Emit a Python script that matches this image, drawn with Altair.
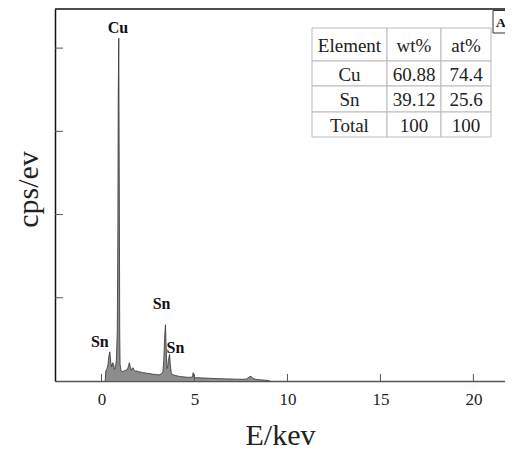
import altair as alt
import pandas as pd

# ---- spectrum ----
energy = [0.20, 0.23, 0.25, 0.30, 0.35, 0.40, 0.45, 0.50, 0.55, 0.60, 0.65, 0.70, 0.75,
          0.80, 0.85, 0.88, 0.90, 0.93, 0.96, 0.98, 1.00, 1.05, 1.10, 1.20, 1.30, 1.40,
          1.45, 1.50, 1.55, 1.60, 1.65, 1.70, 1.75, 1.80, 1.90, 2.00, 2.10, 2.20, 2.30,
          2.40, 2.50, 2.60, 2.70, 2.80, 2.90, 3.00, 3.10, 3.20, 3.30, 3.35, 3.40, 3.44,
          3.48, 3.52, 3.56, 3.60, 3.66, 3.70, 3.75, 3.80, 3.90, 4.00, 4.10, 4.20, 4.40,
          4.60, 4.80, 4.90, 4.93, 4.96, 5.00, 5.20, 5.40, 5.60, 5.80, 6.00, 6.20, 6.40,
          6.60, 6.80, 7.00, 7.20, 7.40, 7.60, 7.80, 7.95, 8.05, 8.15, 8.30, 8.50, 8.70,
          8.90, 9.00, 9.05]
counts = [0.00, 0.12, 0.13, 0.15, 0.20, 0.30, 0.35, 0.22, 0.17, 0.22, 0.20, 0.14, 0.16,
          0.25, 0.60, 1.80, 3.40, 4.12, 2.20, 0.60, 0.20, 0.13, 0.11, 0.12, 0.13, 0.14,
          0.18, 0.22, 0.17, 0.13, 0.15, 0.16, 0.13, 0.12, 0.12, 0.11, 0.11, 0.10, 0.10,
          0.095, 0.09, 0.09, 0.085, 0.08, 0.08, 0.075, 0.075, 0.08, 0.11, 0.25, 0.55, 0.675,
          0.40, 0.15, 0.17, 0.25, 0.32, 0.20, 0.10, 0.08, 0.07, 0.065, 0.06, 0.055, 0.05,
          0.045, 0.045, 0.05, 0.10, 0.05, 0.04, 0.04, 0.037, 0.035, 0.033, 0.03, 0.03, 0.028,
          0.026, 0.025, 0.024, 0.022, 0.022, 0.02, 0.025, 0.05, 0.055, 0.03, 0.02, 0.015, 0.012,
          0.008, 0.005, 0.0]

# peak labels
peak_labels = ["Cu", "Sn", "Sn", "Sn"]
peak_x = [0.88, -0.09, 3.23, 3.98]
peak_y = [4.24, 0.47, 0.92, 0.40]

x_ticks = [0, 5, 10, 15, 20]
y_ticks = [1, 2, 3, 4]

# composition table
table_header = ["Element", "wt%", "at%"]
table_elements = ["Cu", "Sn", "Total"]
table_wt = ["60.88", "39.12", "100"]
table_at = ["74.4", "25.6", "100"]

W, H = 450, 372
XDOM = [-2.5, 21.7]
YDOM = [0, 4.47]
SERIF = "Liberation Serif"

xs = alt.Scale(domain=XDOM, nice=False, zero=False)
ys = alt.Scale(domain=YDOM, nice=False, zero=False)

spec_df = pd.DataFrame({"E": energy, "c": counts})

area = alt.Chart(spec_df).mark_area(
    color="#8c8c8c", opacity=1,
    line={"color": "#333333", "strokeWidth": 0.8}
).encode(
    x=alt.X("E:Q", scale=xs,
            axis=alt.Axis(values=x_ticks, ticks=False, grid=False, domainColor="#555555",
                          domainWidth=1.5, labelFont=SERIF, labelFontSize=17,
                          labelColor="#222222", labelPadding=10, title="E/kev",
                          titleFont=SERIF, titleFontSize=30, titleFontWeight="normal",
                          titleColor="#222222", titlePadding=13)),
    y=alt.Y("c:Q", scale=ys,
            axis=alt.Axis(values=y_ticks, ticks=False, labels=False, grid=False,
                          domainColor="#111111", domainWidth=1.5, title="cps/ev",
                          titleFont=SERIF, titleFontSize=30, titleFontWeight="normal",
                          titleColor="#222222", titlePadding=12, titleY=180))
)

ytick = alt.Chart(pd.DataFrame({"v": y_ticks})).mark_rule(color="#555555", strokeWidth=1).encode(
    y=alt.Y("v:Q", scale=ys), x=alt.value(0), x2=alt.value(8)
)
xtick = alt.Chart(pd.DataFrame({"v": x_ticks})).mark_rule(color="#555555", strokeWidth=1).encode(
    x=alt.X("v:Q", scale=xs), y=alt.value(H), y2=alt.value(H - 7)
)
top_border = alt.Chart(pd.DataFrame({"a": [0]})).mark_rule(color="#111111", strokeWidth=1.5).encode(
    x=alt.value(0), x2=alt.value(W), y=alt.value(0)
)

labels = alt.Chart(pd.DataFrame({"t": peak_labels, "x": peak_x, "y": peak_y})).mark_text(
    font=SERIF, fontSize=16, fontWeight="bold", color="#111111", baseline="middle"
).encode(x=alt.X("x:Q", scale=xs), y=alt.Y("y:Q", scale=ys), text="t:N")

# table layout (pixel layout inside plot area)
col_edges = [257, 332, 386, 436]
row_edges = [19, 52, 77, 103, 128]
rows = [table_header] + [[e, w, a] for e, w, a in zip(table_elements, table_wt, table_at)]
cells = []
for r, row in enumerate(rows):
    for c, txt in enumerate(row):
        cells.append({"t": txt, "x0": col_edges[c], "x1": col_edges[c + 1],
                      "y0": row_edges[r], "y1": row_edges[r + 1],
                      "xm": (col_edges[c] + col_edges[c + 1]) / 2,
                      "ym": (row_edges[r] + row_edges[r + 1]) / 2})
cell_df = pd.DataFrame(cells)
cell_rect = alt.Chart(cell_df).mark_rect(fill="white", stroke="#bbbbbb", strokeWidth=1).encode(
    x=alt.X("x0:Q", scale=None), x2="x1:Q", y=alt.Y("y0:Q", scale=None), y2="y1:Q"
)
cell_text = alt.Chart(cell_df).mark_text(font=SERIF, fontSize=19, color="#222222",
                                         baseline="middle", dy=1).encode(
    x=alt.X("xm:Q", scale=None), y=alt.Y("ym:Q", scale=None), text="t:N"
)

a_box = alt.Chart(pd.DataFrame({"t": ["A"]})).mark_rect(fill="white", stroke="#333333",
                                                        strokeWidth=1).encode(
    x=alt.value(438), x2=alt.value(462), y=alt.value(1.5), y2=alt.value(24)
)
a_text = alt.Chart(pd.DataFrame({"t": ["A"]})).mark_text(
    font=SERIF, fontSize=13.5, fontWeight="bold", color="#111111", align="left", baseline="middle"
).encode(x=alt.value(441), y=alt.value(13.5), text="t:N")

chart = alt.layer(area, ytick, xtick, top_border, labels, cell_rect, cell_text, a_box, a_text).properties(
    width=W, height=H,
    autosize=alt.AutoSizeParams(type="none"),
    padding={"left": 47, "top": 1, "right": 0, "bottom": 69},
    background="white",
).configure_view(stroke=None)

chart.save("out.html", embed_options={"renderer": "svg", "actions": False})
